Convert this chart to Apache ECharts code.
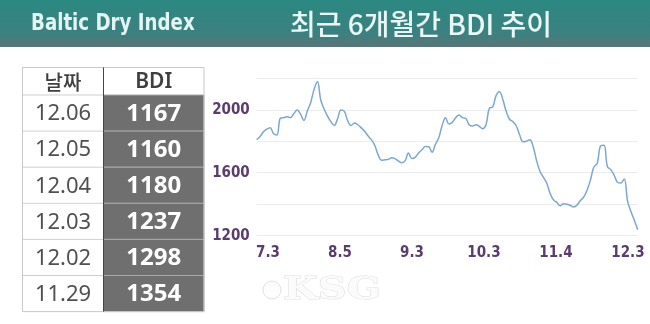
<!DOCTYPE html>
<html><head><meta charset="utf-8">
<script src="https://cdn.jsdelivr.net/npm/echarts@6/dist/echarts.min.js"></script>
<style>html,body{margin:0;padding:0;background:#fff}#c{width:650px;height:324px}</style>
</head><body><div id="c"></div>
<script>
// ---- data ----
const headerLeft = 'Baltic Dry Index';
const headerRight = '최근 6개월간 BDI 추이';
const tableHead = ['날짜', 'BDI'];
const tableDates = ['12.06', '12.05', '12.04', '12.03', '12.02', '11.29'];
const tableValues = [1167, 1160, 1180, 1237, 1298, 1354];
const xTickLabels = ['7.3', '8.5', '9.3', '10.3', '11.4', '12.3'];
const yLabelValues = [1200, 1600, 2000];
// BDI daily values, business days from 2024-06-26 to 2024-12-03
const bdiValues = [
  1810, 1830, 1860, 1877, 1886, 1848, 1840, 1946, 1950, 1955,
  1950, 1975, 1998, 1972, 1932, 1992, 2045, 2128, 2180, 2062,
  2005, 1960, 1925, 1900, 1944, 1998, 1990, 1930, 1900, 1916,
  1905, 1885, 1863, 1835, 1810, 1775, 1715, 1680, 1682, 1685,
  1695, 1690, 1675, 1664, 1675, 1725, 1691, 1698, 1725, 1746,
  1766, 1765, 1730, 1780, 1822, 1900, 1950, 1910, 1920, 1950,
  1967, 1950, 1945, 1905, 1897, 1905, 1895, 1880, 1905, 2010,
  2018, 2090, 2115, 2065, 1990, 1940, 1924, 1897, 1840, 1797,
  1800, 1810, 1765, 1678, 1610, 1572, 1535, 1470, 1428, 1412,
  1390, 1403, 1400, 1392, 1383, 1395, 1423, 1446, 1490, 1555,
  1636, 1660, 1770, 1775, 1640, 1620, 1585, 1540, 1535, 1560,
  1420, 1354, 1298, 1237
];
// business-day category labels (UK holiday 2024-08-26 excluded)
function businessDays(start, n) {
  const out = []; const d = new Date(start + 'T00:00:00Z');
  while (out.length < n) {
    const wd = d.getUTCDay();
    const key = (d.getUTCMonth() + 1) + '.' + String(d.getUTCDate()).padStart(2, '0');
    if (wd !== 0 && wd !== 6 && key !== '8.26') out.push(key);
    d.setUTCDate(d.getUTCDate() + 1);
  }
  return out;
}
const bdiDates = businessDays('2024-06-26', bdiValues.length);

// ---- styles ----
const PURPLE = '#5b3c6e';
const COND = '"DejaVu Sans Condensed","Liberation Sans Narrow",sans-serif';
const KR = '"Noto Sans CJK KR","Noto Sans",sans-serif';

const chart = echarts.init(document.getElementById('c'));

const tX0 = 22.5, tX1 = 103.5, tX2 = 204, tY0 = 67.5, tYh = 95, rowH = 36.1;
const g = [];
g.push({type: 'rect', shape: {x: 0, y: 0, width: 650, height: 47}, style: {
  fill: new echarts.graphic.LinearGradient(0, 0, 0, 1, [
    {offset: 0, color: '#2b8882'}, {offset: 0.7, color: '#3b8180'}, {offset: 1, color: '#5a7579'}])}, z: 0});
g.push({type: 'text', x: 31, y: 24, scaleX: 0.88, style: {text: headerLeft, font: 'bold 23px ' + COND, fill: '#e3f5f2', verticalAlign: 'middle'}, z: 2});
g.push({type: 'text', x: 290, y: 24, style: {text: headerRight, font: '500 28px ' + KR, fill: '#eaf7f5', verticalAlign: 'middle'}, z: 2});

const nRows = tableDates.length;
const tY1 = tYh + rowH * nRows;
for (let i = 0; i < nRows; i++) {
  const y = tYh + rowH * i;
  g.push({type: 'rect', shape: {x: tX1, y: y, width: tX2 - tX1, height: rowH}, style: {fill: '#6f6f6f', stroke: '#a8a8a8', lineWidth: 1}, z: 1});
  g.push({type: 'line', shape: {x1: tX0, y1: y, x2: tX1, y2: y}, style: {stroke: '#cfcfcf', lineWidth: 1}, z: 2});
  g.push({type: 'text', x: (tX0 + tX1) / 2, y: y + rowH / 2 + 1, style: {text: tableDates[i], font: '22px "Noto Sans",sans-serif', fill: '#505050', align: 'center', verticalAlign: 'middle'}, z: 3});
  g.push({type: 'text', x: (tX1 + tX2) / 2, y: y + rowH / 2 + 1, style: {text: String(tableValues[i]), font: 'bold 24px "Noto Sans",sans-serif', fill: '#ffffff', align: 'center', verticalAlign: 'middle'}, z: 3});
}
g.push({type: 'rect', shape: {x: tX0, y: tY0, width: tX2 - tX0, height: tY1 - tY0}, style: {fill: 'none', stroke: '#c8c8c8', lineWidth: 1}, z: 4});
g.push({type: 'line', shape: {x1: tX1, y1: tY0, x2: tX1, y2: tY1}, style: {stroke: '#444', lineWidth: 1}, z: 4});
g.push({type: 'text', x: (tX0 + tX1) / 2, y: (tY0 + tYh) / 2 + 1, style: {text: tableHead[0], font: '500 20px ' + KR, fill: '#3f3f3f', align: 'center', verticalAlign: 'middle'}, z: 3});
g.push({type: 'text', x: (tX1 + tX2) / 2, y: (tY0 + tYh) / 2 + 1, style: {text: tableHead[1], font: '600 21px "Noto Sans",sans-serif', fill: '#3f3f3f', align: 'center', verticalAlign: 'middle'}, z: 3});

// faint KSG watermark
g.push({type: 'circle', shape: {cx: 272, cy: 290, r: 9}, style: {fill: '#fdfdfd', stroke: '#e2e2e2', lineWidth: 1}, z: 1});
g.push({type: 'text', x: 283, y: 291, scaleX: 1.25, style: {text: 'KSG', font: 'bold 32px "DejaVu Serif",serif', fill: '#fbfbfb', stroke: '#e0e0e0', lineWidth: 1, verticalAlign: 'middle'}, z: 1});

chart.setOption({
  animation: false,
  backgroundColor: '#ffffff',
  grid: {left: 256.7, right: 12.3, top: 78.3, bottom: 88.3, containLabel: false},
  xAxis: [
    {type: 'category', data: bdiDates, boundaryGap: false, show: false},
    {type: 'value', min: -0.157, max: 5.135, position: 'bottom',
      axisLine: {show: false}, axisTick: {show: false}, splitLine: {show: false},
      axisLabel: {customValues: [0, 1, 2, 3, 4, 5], formatter: v => xTickLabels[Math.round(v)],
        margin: 10, color: PURPLE, fontFamily: COND, fontWeight: 'bold', fontSize: 15}}
  ],
  yAxis: {type: 'value', min: 1200, max: 2200, interval: 200,
    axisLine: {show: false}, axisTick: {show: false},
    splitLine: {lineStyle: {color: '#ececec', width: 1}},
    axisLabel: {formatter: v => yLabelValues.includes(v) ? String(v) : '', margin: 7,
      color: PURPLE, fontFamily: COND, fontWeight: 'bold', fontSize: 15}},
  series: [{type: 'line', xAxisIndex: 0, data: bdiValues, smooth: 0.4, showSymbol: false,
    lineStyle: {color: '#7ca8cf', width: 1.5}}],
  graphic: g
});
</script></body></html>
